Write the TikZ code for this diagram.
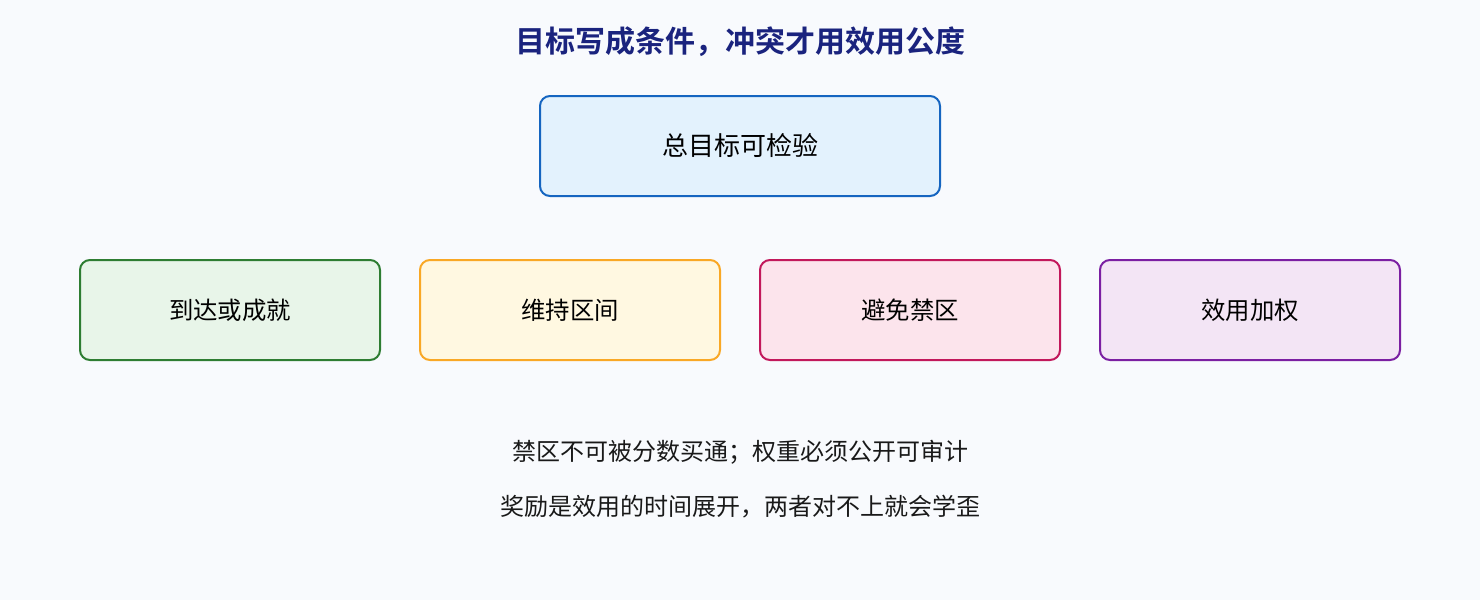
\documentclass[tikz,border=0pt]{standalone}
\usepackage{fontspec}
\setmainfont{Noto Sans CJK SC}
\newfontfamily\cjkbold{Noto Sans CJK SC Bold}
\usetikzlibrary{positioning}
\definecolor{bgpage}{HTML}{F8FAFD}
\definecolor{titlec}{HTML}{1A237E}
\definecolor{topfill}{HTML}{E3F2FD}\definecolor{topdraw}{HTML}{1565C0}
\definecolor{gfill}{HTML}{E8F5E9}\definecolor{gdraw}{HTML}{2E7D32}
\definecolor{yfill}{HTML}{FFF8E1}\definecolor{ydraw}{HTML}{F9A825}
\definecolor{pfill}{HTML}{FCE4EC}\definecolor{pdraw}{HTML}{C2185B}
\definecolor{vfill}{HTML}{F3E5F5}\definecolor{vdraw}{HTML}{7B1FA2}
\tikzset{kindbox/.style={draw=#1draw,fill=#1fill,line width=1pt,rounded corners=5pt,
    minimum width=150pt,minimum height=50pt,font=\fontsize{12.2}{14}\selectfont}}
\tikzset{notetext/.style={text=black!90,font=\fontsize{12}{14}\selectfont}}
\begin{document}
\begin{tikzpicture}[x=0.5pt,y=-0.5pt,node distance=19pt and 19pt]
      \fill[bgpage] (0,0) rectangle (1480,600);
      \node[text=titlec,font=\cjkbold\fontsize{15}{17}\selectfont](title) at (740,42){目标写成条件，冲突才用效用公度};
      \node[kindbox=top,minimum width=200pt,font=\fontsize{13}{15}\selectfont](goal) at (740,146){总目标可检验};
      
      \node[kindbox=y](keep) at (570,310){维持区间};
      \node[kindbox=g,left=of keep](reach){到达或成就};
      \node[kindbox=p,right=of keep](avoid){避免禁区};
      \node[kindbox=v,right=of avoid](util){效用加权};
      
      \node[notetext](note1) at (740,452){禁区不可被分数买通；权重必须公开可审计};
      \node[notetext](note2) at (740,507){奖励是效用的时间展开，两者对不上就会学歪};
    \end{tikzpicture}
\end{document}
